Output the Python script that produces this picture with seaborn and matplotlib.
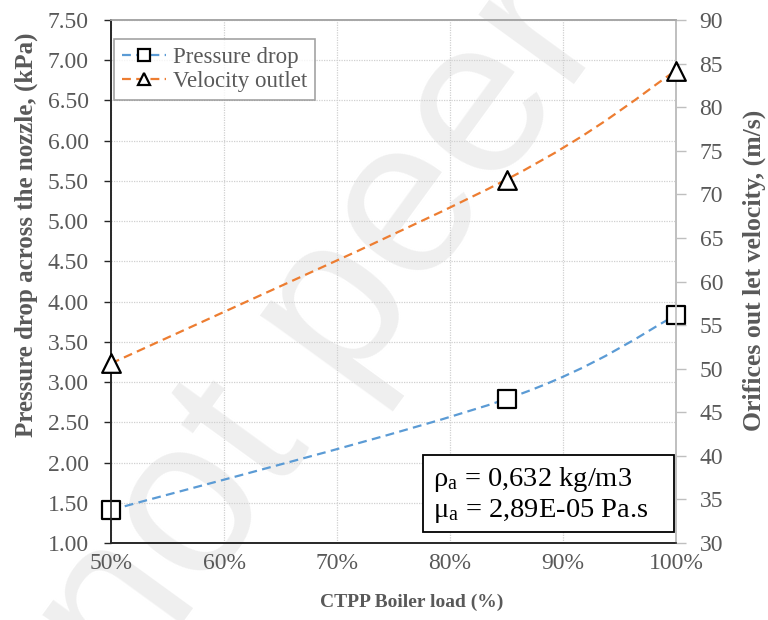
import numpy as np
import pandas as pd
import matplotlib
matplotlib.use("Agg")
import matplotlib.pyplot as plt
from matplotlib.lines import Line2D
from matplotlib.path import Path
from matplotlib.patches import PathPatch, Rectangle
from matplotlib.ticker import PercentFormatter, MultipleLocator, FormatStrFormatter
import seaborn as sns

# ---- data ----
boiler_load = [0.50, 0.85, 1.00]
pressure_drop = [1.41, 2.79, 3.83]      # kPa
velocity_outlet = [50.6, 71.7, 84.2]    # m/s
series_names = ["Pressure drop", "Velocity outlet"]
xlabel = "CTPP Boiler load (%)"
ylabel_left = "Pressure drop across the nozzle, (kPa)"
ylabel_right = "Orifices out let velocity, (m/s)"
note_lines = ["ρ$_\\mathrm{a}$ = 0,632 kg/m3", "μ$_\\mathrm{a}$ = 2,89E-05 Pa.s"]
watermark = "not peer"

df = pd.DataFrame({"load": boiler_load, "dp": pressure_drop, "v": velocity_outlet})

sns.set_style("white")
plt.rcParams["font.family"] = ["Liberation Serif", "DejaVu Serif"]
plt.rcParams["mathtext.fontset"] = "custom"
plt.rcParams["mathtext.rm"] = "Liberation Serif"
plt.rcParams["mathtext.it"] = "Liberation Serif:italic"

BLUE = "#5B9BD5"
ORANGE = "#ED7D31"
GRAY = "#595959"
DASH = (0, (4, 2.4))


def smooth_path(xs, ys):
    """Spreadsheet-style smoothed line: cubic Bezier through the data points."""
    pts = np.column_stack([xs, ys]).astype(float)
    n = len(pts)
    verts = [pts[0]]
    codes = [Path.MOVETO]
    for i in range(n - 1):
        p_prev = pts[i - 1] if i > 0 else pts[i]
        p_next2 = pts[i + 2] if i + 2 < n else pts[i + 1]
        c1 = pts[i] + (pts[i + 1] - p_prev) / 6.0
        c2 = pts[i + 1] - (p_next2 - pts[i]) / 6.0
        verts += [c1, c2, pts[i + 1]]
        codes += [Path.CURVE4] * 3
    return Path(verts, codes)


fig = plt.figure(figsize=(7.68, 6.2), dpi=100)
ax = fig.add_axes([111 / 768, 77 / 620, 565 / 768, 523 / 620])
ax.patch.set_alpha(0)
ax2 = ax.twinx()

# watermark (behind everything)
fig.text(0.42, 0.465, watermark, rotation=54, rotation_mode="anchor",
         ha="center", va="center", fontsize=160, family="Liberation Sans",
         color="#efefef", zorder=-5)

# smoothed dashed lines
ax.add_patch(PathPatch(smooth_path(df["load"], df["dp"]), fill=False,
                       edgecolor=BLUE, lw=1.6, ls=DASH, zorder=3))
ax2.add_patch(PathPatch(smooth_path(df["load"], df["v"]), fill=False,
                        edgecolor=ORANGE, lw=1.6, ls=DASH, zorder=3))

# markers
sns.scatterplot(data=df, x="load", y="dp", marker="s", s=155, color="white",
                edgecolor="black", linewidth=1.6, ax=ax, zorder=5, clip_on=False)
sns.scatterplot(data=df, x="load", y="v", marker="^", s=180, color="white",
                edgecolor="black", linewidth=1.6, ax=ax2, zorder=5, clip_on=False)

# axes limits & ticks
ax.set_xlim(0.5, 1.0)
ax.set_ylim(1.0, 7.5)
ax2.set_ylim(30, 90)
ax.xaxis.set_major_locator(MultipleLocator(0.1))
ax.xaxis.set_minor_locator(MultipleLocator(0.02))
ax.xaxis.set_major_formatter(PercentFormatter(xmax=1, decimals=0))
ax.yaxis.set_major_locator(MultipleLocator(0.5))
ax.yaxis.set_major_formatter(FormatStrFormatter("%.2f"))
ax2.yaxis.set_major_locator(MultipleLocator(5))

ax.grid(True, which="major", color="#d0d0d0", ls=(0, (1, 1)), lw=0.9)
ax.set_axisbelow(True)

ax.tick_params(axis="x", which="major", direction="in", length=6, width=1,
               color="#262626", labelsize=17, labelcolor=GRAY, pad=7)
ax.tick_params(axis="x", which="minor", direction="in", length=4, width=1,
               color="#262626")
ax.tick_params(axis="y", direction="out", length=5, width=1, color="#262626",
               labelsize=17, labelcolor=GRAY, pad=11, left=True)
ax2.tick_params(axis="y", direction="out", length=7, width=1, color="#bfbfbf",
                labelsize=17, labelcolor=GRAY, pad=10, right=True)

for a in (ax, ax2):
    a.spines["left"].set_color("#262626")
    a.spines["bottom"].set_color("#262626")
    a.spines["top"].set_color("#a6a6a6")
    a.spines["right"].set_color("#bfbfbf")
    for s in a.spines.values():
        s.set_linewidth(1.2)

ax.set_xlabel(xlabel, fontsize=14, fontweight="bold", color=GRAY)
ax.xaxis.set_label_coords(0.533, -0.096)
ax.set_ylabel(ylabel_left, fontsize=18, fontweight="bold", color=GRAY)
ax.yaxis.set_label_coords(-0.13, 0.589)
ax2.set_ylabel(ylabel_right, fontsize=18.5, fontweight="bold", color=GRAY,
               rotation=90)
ax2.yaxis.set_label_coords(1.118, 0.522)

# legend
handles = [
    Line2D([], [], color=BLUE, ls=DASH, lw=1.6, marker="s", ms=9,
           mfc="white", mec="black", mew=1.6),
    Line2D([], [], color=ORANGE, ls=DASH, lw=1.6, marker="^", ms=9,
           mfc="white", mec="black", mew=1.6),
]
leg = ax2.legend(handles, series_names, loc="upper left",
                 bbox_to_anchor=(0.0, 0.97), fontsize=16.5, frameon=True,
                 fancybox=False, edgecolor="#8c8c8c", handlelength=1.9,
                 handletextpad=0.3, borderpad=0.35, labelspacing=0.12,
                 borderaxespad=0.15)
leg.get_frame().set_linewidth(1.2)
for t in leg.get_texts():
    t.set_color(GRAY)

# annotation box
ax2.add_patch(Rectangle((0.552, 0.021), 0.444, 0.147, transform=ax2.transAxes,
                        fc="white", ec="black", lw=1.3, zorder=6))
ax2.text(0.570, 0.035, "\n".join(note_lines), transform=ax2.transAxes,
         ha="left", va="bottom", fontsize=20.5, color="black", linespacing=1.15,
         zorder=7)

fig.savefig("out.png", dpi=100)
